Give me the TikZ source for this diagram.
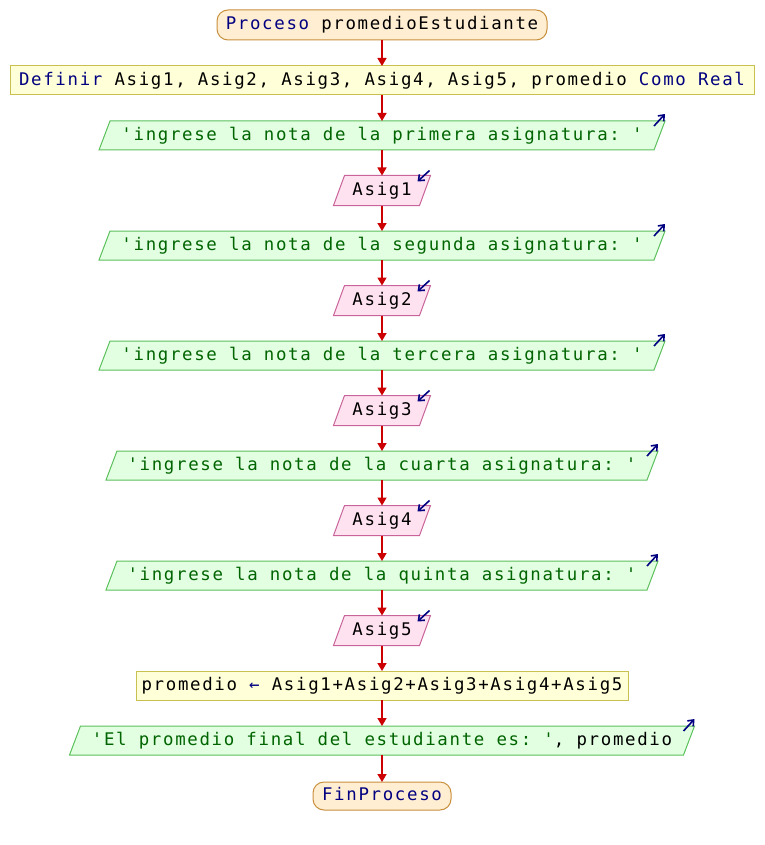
\documentclass[tikz,border=0pt]{standalone}
\usepackage{fontspec}
\setmonofont{DejaVu Sans Mono}[LetterSpace=9.6]
\usetikzlibrary{arrows.meta,backgrounds}
\definecolor{kw}{HTML}{000080}
\definecolor{str}{HTML}{006400}
\definecolor{flowc}{HTML}{CC0000}
\definecolor{termf}{HTML}{FFEED2}
\definecolor{termb}{HTML}{C8903C}
\definecolor{procf}{HTML}{FFFFD8}
\definecolor{procb}{HTML}{C8C050}
\definecolor{outf}{HTML}{E2FFE2}
\definecolor{outb}{HTML}{5CC05C}
\definecolor{inf}{HTML}{FFE2F0}
\definecolor{inb}{HTML}{C8649A}
\newcommand{\txtfont}{\fontsize{17.4}{20}\selectfont\ttfamily}
\tikzset{
  base/.style={inner sep=0pt, outer sep=0pt, minimum height=29, font=\txtfont, text height=12.7, text depth=3.5},
  term/.style={base, draw=termb, fill=termf, line width=1, rounded corners=11},
  proc/.style={base, draw=procb, fill=procf, line width=1},
  io/.style={base},
  outshape/.style={draw=outb, fill=outf, line width=1},
  inshape/.style={draw=inb, fill=inf, line width=1},
  flow/.style={draw=flowc, line width=1.6, -{Triangle[length=8,width=9]}},
  icon/.style={draw=kw, line width=1.6, -{Straight Barb[length=5,width=8]}}
}
% #1 name, #2 shape style, #3 slant
\newcommand{\paraback}[3]{%
  \begin{scope}[on background layer]
    \path[#2] ([xshift=#3/2]#1.north west) -- ([xshift=#3/2]#1.north east) -- ([xshift=-#3/2]#1.south east) -- ([xshift=-#3/2]#1.south west) -- cycle;
  \end{scope}}
\newcommand{\outicon}[1]{%
  \coordinate (#1c1) at ([xshift=5.5-11,yshift=-5]#1.north east);
  \coordinate (#1c2) at ([xshift=5.5,yshift=7]#1.north east);
  \draw[icon] (#1c1) -- (#1c2);}
\newcommand{\inicon}[1]{%
  \coordinate (#1c1) at ([xshift=5.5-1,yshift=5]#1.north east);
  \coordinate (#1c2) at ([xshift=5.5-13,yshift=-6]#1.north east);
  \draw[icon] (#1c1) -- (#1c2);}
\begin{document}
\begin{tikzpicture}[x=1pt,y=-1pt]
\begin{pgfonlayer}{background}
\fill[white] (0,0) rectangle (764,845);
\end{pgfonlayer}
\useasboundingbox (0,0) rectangle (764,845);

\node[term, minimum width=330, minimum height=30] (p0) at (382,25) {\textcolor{kw}{Proceso} promedioEstudiante};
\node[proc, minimum width=744] (def) at (382,80.5) {\textcolor{kw}{Definir} Asig1, Asig2, Asig3, Asig4, Asig5, promedio \textcolor{kw}{Como Real}};

\node[io, minimum width=555] (o1) at (382,135.5) {\textcolor{str}{'ingrese la nota de la primera asignatura: '}};
\paraback{o1}{outshape}{11}\outicon{o1}
\node[io, minimum width=86, minimum height=30] (i1) at (382,190.5) {Asig1};
\paraback{i1}{inshape}{11}\inicon{i1}

\node[io, minimum width=555] (o2) at (382,245.5) {\textcolor{str}{'ingrese la nota de la segunda asignatura: '}};
\paraback{o2}{outshape}{11}\outicon{o2}
\node[io, minimum width=86, minimum height=30] (i2) at (382,300.5) {Asig2};
\paraback{i2}{inshape}{11}\inicon{i2}

\node[io, minimum width=555] (o3) at (382,355.5) {\textcolor{str}{'ingrese la nota de la tercera asignatura: '}};
\paraback{o3}{outshape}{11}\outicon{o3}
\node[io, minimum width=86, minimum height=30] (i3) at (382,410.5) {Asig3};
\paraback{i3}{inshape}{11}\inicon{i3}

\node[io, minimum width=541] (o4) at (382,465.5) {\textcolor{str}{'ingrese la nota de la cuarta asignatura: '}};
\paraback{o4}{outshape}{11}\outicon{o4}
\node[io, minimum width=86, minimum height=30] (i4) at (382,520.5) {Asig4};
\paraback{i4}{inshape}{11}\inicon{i4}

\node[io, minimum width=541] (o5) at (382,575.5) {\textcolor{str}{'ingrese la nota de la quinta asignatura: '}};
\paraback{o5}{outshape}{11}\outicon{o5}
\node[io, minimum width=86, minimum height=30] (i5) at (382,630.5) {Asig5};
\paraback{i5}{inshape}{11}\inicon{i5}

\node[proc, minimum width=492] (pr) at (382,685.5) {promedio \textcolor{kw}{←} Asig1+Asig2+Asig3+Asig4+Asig5};
\node[io, minimum width=614] (of) at (382,740.5) {\textcolor{str}{'El promedio final del estudiante es: '}, promedio};
\paraback{of}{outshape}{11}\outicon{of}
\node[term, minimum width=138, minimum height=28] (fin) at (382,796) {\textcolor{kw}{FinProceso}};

\foreach \a/\b in {p0/def, def/o1, o1/i1, i1/o2, o2/i2, i2/o3, o3/i3, i3/o4, o4/i4, i4/o5, o5/i5, i5/pr, pr/of, of/fin}
  \draw[flow] (\a.south) -- (\b.north);
\end{tikzpicture}
\end{document}
